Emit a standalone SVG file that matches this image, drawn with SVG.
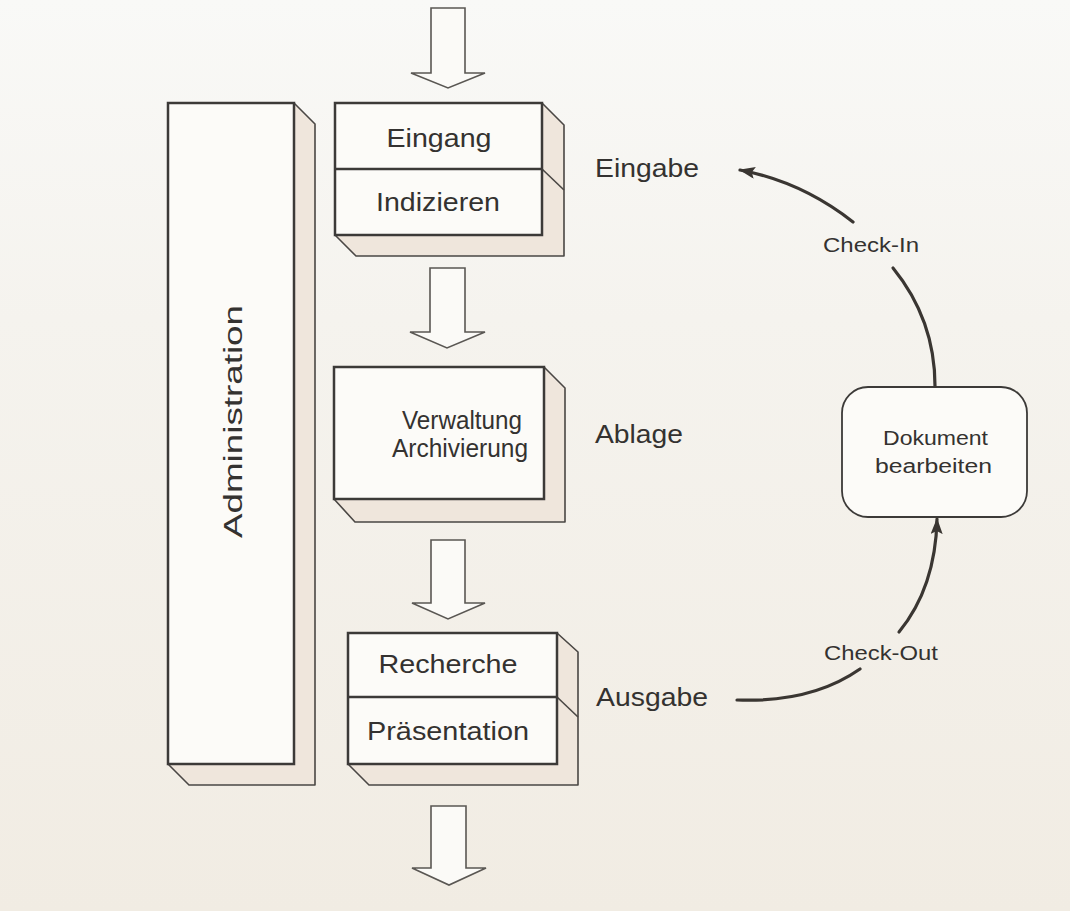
<svg xmlns="http://www.w3.org/2000/svg" width="1070" height="911" viewBox="0 0 1070 911">
<defs>
<linearGradient id="bg" x1="0" y1="0" x2="0" y2="1">
<stop offset="0" stop-color="#f9f9f7"/>
<stop offset="0.35" stop-color="#f5f3ee"/>
<stop offset="1" stop-color="#f1ece3"/>
</linearGradient>
<marker id="ah" viewBox="0 0 16 12" refX="15" refY="6" markerWidth="16" markerHeight="12" markerUnits="userSpaceOnUse" orient="auto">
<path d="M0,0 L16,6 L0,12 L3,6 Z" fill="#3a3632"/>
</marker>
<style>
.front{fill:#fcfbf8;stroke:#3c3a38;stroke-width:2.5}
.side{fill:#efe6dc;stroke:#4a4744;stroke-width:1.6;stroke-linejoin:round}
.div{stroke:#3c3a38;stroke-width:2.5}
.sdiv{stroke:#4a4744;stroke-width:1.6}
.blk{fill:#fbfaf7;stroke:#5a5753;stroke-width:1.6;stroke-linejoin:miter}
.t{font-family:"Liberation Sans",Arial,sans-serif;fill:#343230;font-size:26px}
.s{font-family:"Liberation Sans",Arial,sans-serif;fill:#343230;font-size:20px}
.con{fill:none;stroke:#3a3632;stroke-width:3.2;stroke-linecap:round}
</style>
</defs>
<rect x="0" y="0" width="1070" height="911" fill="url(#bg)"/>

<g id="flow-arrows">
<polygon class="blk" points="431,8 465,8 465,73 485,73 448,88 411,73 431,73"/>
<polygon class="blk" points="430,268 465,268 465,332 485,332 447,348 410,332 430,332"/>
<polygon class="blk" points="431,540 465,540 465,603 485,603 448,619 412,603 431,603"/>
<polygon class="blk" points="431,806 466,806 466,868 486,868 449,885 412,868 431,868"/>
</g>

<g id="administration">
<polygon class="side" points="294,103 315,124 315,785 189,785 168,764 294,764"/>
<rect class="front" x="168" y="103" width="126" height="661"/>
<text class="t" transform="translate(242,421.5) rotate(-90)" text-anchor="middle" textLength="233" lengthAdjust="spacingAndGlyphs">Administration</text>
</g>

<g id="eingang-indizieren">
<polygon class="side" points="542,103 564,125 564,256 356,256 335,235 542,235"/>
<line class="sdiv" x1="542" y1="169" x2="564" y2="190"/>
<rect class="front" x="335" y="103" width="207" height="132"/>
<line class="div" x1="335" y1="169" x2="542" y2="169"/>
<text class="t" x="439" y="147" text-anchor="middle" textLength="105" lengthAdjust="spacingAndGlyphs">Eingang</text>
<text class="t" x="438" y="211" text-anchor="middle" textLength="124" lengthAdjust="spacingAndGlyphs">Indizieren</text>
</g>

<g id="verwaltung-archivierung">
<polygon class="side" points="544,367 565,388 565,522 355,522 334,499 544,499"/>
<rect class="front" x="334" y="367" width="210" height="132"/>
<text class="t" x="462" y="429" text-anchor="middle" textLength="120" lengthAdjust="spacingAndGlyphs">Verwaltung</text>
<text class="t" x="460" y="457" text-anchor="middle" textLength="136" lengthAdjust="spacingAndGlyphs">Archivierung</text>
</g>

<g id="recherche-praesentation">
<polygon class="side" points="557,633 578,652 578,785 369,785 348,764 557,764"/>
<line class="sdiv" x1="557" y1="697" x2="578" y2="717"/>
<rect class="front" x="348" y="633" width="209" height="131"/>
<line class="div" x1="348" y1="697" x2="557" y2="697"/>
<text class="t" x="448" y="673" text-anchor="middle" textLength="139" lengthAdjust="spacingAndGlyphs">Recherche</text>
<text class="t" x="448" y="740" text-anchor="middle" textLength="162" lengthAdjust="spacingAndGlyphs">Präsentation</text>
</g>

<g id="labels">
<text class="t" x="595" y="177" textLength="104" lengthAdjust="spacingAndGlyphs">Eingabe</text>
<text class="t" x="595" y="443" textLength="88" lengthAdjust="spacingAndGlyphs">Ablage</text>
<text class="t" x="596" y="706" textLength="112" lengthAdjust="spacingAndGlyphs">Ausgabe</text>
</g>

<g id="dokument-bearbeiten">
<rect x="842" y="387" width="185" height="130" rx="26" ry="26" fill="#fcfbf8" stroke="#3c3a38" stroke-width="1.8"/>
<text class="s" x="935.5" y="445" text-anchor="middle" textLength="105" lengthAdjust="spacingAndGlyphs">Dokument</text>
<text class="s" x="933.5" y="473" text-anchor="middle" textLength="117" lengthAdjust="spacingAndGlyphs">bearbeiten</text>
</g>

<g id="connectors">
<path class="con" d="M935,386 C935,340 919,300 893,268"/>
<path class="con" d="M853,222 C820,196 782,178 740,170" marker-end="url(#ah)"/>
<path class="con" d="M737,700 C790,702 830,690 860,669"/>
<path class="con" d="M899,632 C922,604 936,566 937,519" marker-end="url(#ah)"/>
<text class="s" x="823" y="252" textLength="96" lengthAdjust="spacingAndGlyphs">Check-In</text>
<text class="s" x="824" y="660" textLength="114" lengthAdjust="spacingAndGlyphs">Check-Out</text>
</g>
</svg>
